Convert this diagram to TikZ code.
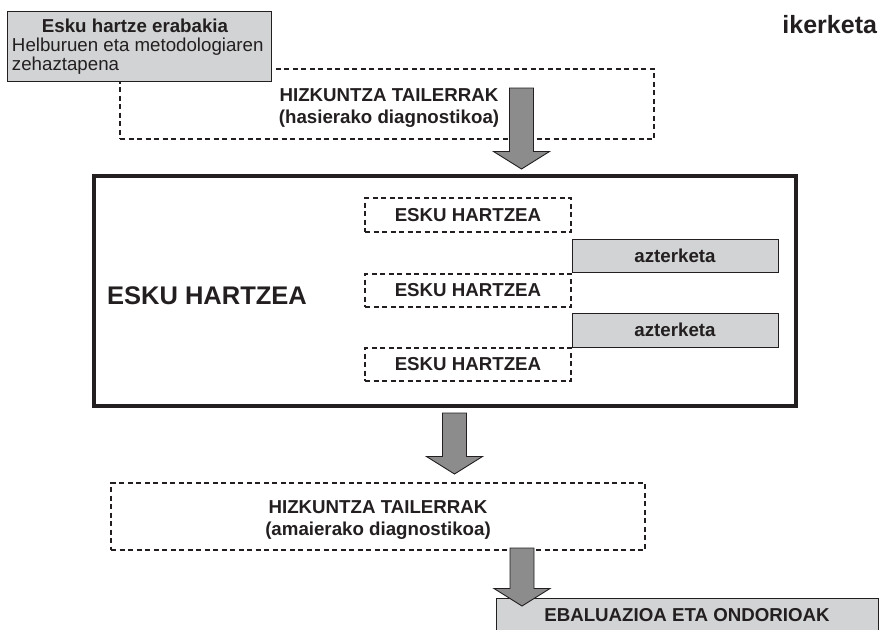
\documentclass[tikz,border=0pt]{standalone}
\usepackage{fontspec}
\setmainfont{Liberation Sans}
\usetikzlibrary{calc}
\definecolor{lgray}{HTML}{D1D3D4}
\definecolor{agray}{HTML}{8C8C8C}
\definecolor{ink}{HTML}{231F20}
\tikzset{
  graybox/.style={rectangle, draw=ink, line width=1pt, fill=lgray, anchor=north west},
  dashbox/.style={rectangle, draw=ink, line width=1.1pt, dash pattern=on 5pt off 3.5pt, anchor=north west},
  mainbox/.style={rectangle, draw=ink, line width=3.5pt, anchor=north west},
  lbl/.style={font=\fontsize{18.7}{22}\selectfont\bfseries, align=center},
  plain/.style={font=\fontsize{18.7}{19}\selectfont},
  bigtxt/.style={font=\fontsize{25.5}{30}\selectfont\bfseries},
  barrow/.style={fill=agray, draw=ink, line width=0.9pt, line join=miter}
}
\newcommand{\blockarr}[2]{%
  \filldraw[barrow] let \p1=(#1), \p2=(#2) in
    (\x1-12pt,\y1) -- (\x1+12pt,\y1) -- (\x1+12pt,\y2+17.5pt) -- (\x1+28pt,\y2+17.5pt)
    -- (\x2,\y2) -- (\x1-28pt,\y2+17.5pt) -- (\x1-12pt,\y2+17.5pt) -- cycle;}
\begin{document}
\begin{tikzpicture}[x=1pt,y=-1pt,
  every node/.style={inner sep=0pt, outer sep=0pt, text=ink}]
\useasboundingbox (0,0) rectangle (880,629);
\clip (0,0) rectangle (880,629);

% dashed box 1 (behind the decision box)
\node[dashbox, minimum width=534, minimum height=70] (hz1) at (120,69) {};
\node[lbl] (hz1t) at (389,108) {HIZKUNTZA TAILERRAK\\(hasierako diagnostikoa)};

% decision box
\node[graybox, minimum width=264, minimum height=70] (dec) at (7,11) {};
\node[plain, anchor=base] (dect1) at (135,32) {\bfseries Esku hartze erabakia};
\node[plain, anchor=base west] (dect2) at (12,51) {Helburuen eta metodologiaren};
\node[plain, anchor=base west] (dect3) at (12,70) {zehaztapena};

% title
\node[font=\fontsize{25}{30}\selectfont\bfseries, anchor=base east] (ik) at (877,33) {ikerketa};

% main box
\node[mainbox, minimum width=702, minimum height=230] (main) at (94,176) {};
\node[bigtxt] (maint) at (207,296) {ESKU HARTZEA};

% inner boxes
\node[dashbox, lbl, minimum width=206, minimum height=34] (e1) at (365,198) {ESKU HARTZEA};
\node[graybox, lbl, minimum width=206, minimum height=33] (z1) at (572,239) {azterketa};
\node[dashbox, lbl, minimum width=206, minimum height=33] (e2) at (365,274) {ESKU HARTZEA};
\node[graybox, lbl, minimum width=206, minimum height=34] (z2) at (572,313) {azterketa};
\node[dashbox, lbl, minimum width=206, minimum height=33] (e3) at (365,348) {ESKU HARTZEA};

% dashed box 2
\node[dashbox, minimum width=534, minimum height=67] (hz2) at (111,483) {};
\node[lbl] (hz2t) at (378,520) {HIZKUNTZA TAILERRAK\\(amaierako diagnostikoa)};

% final box (runs off the bottom edge)
\node[graybox, minimum width=382, minimum height=45] (final) at (496,598) {};
\node[lbl, anchor=base] (finalt) at (687,621) {EBALUAZIOA ETA ONDORIOAK};

% block arrows
\coordinate (a1s) at (521.5,88);
\coordinate (a1t) at (521.5,169);
\coordinate (a2s) at (454.5,413);
\coordinate (a2t) at (454.5,474);
\coordinate (a3s) at (522,548);
\coordinate (a3t) at (522,606);
\blockarr{a1s}{a1t}
\blockarr{a2s}{a2t}
\blockarr{a3s}{a3t}
\end{tikzpicture}
\end{document}
